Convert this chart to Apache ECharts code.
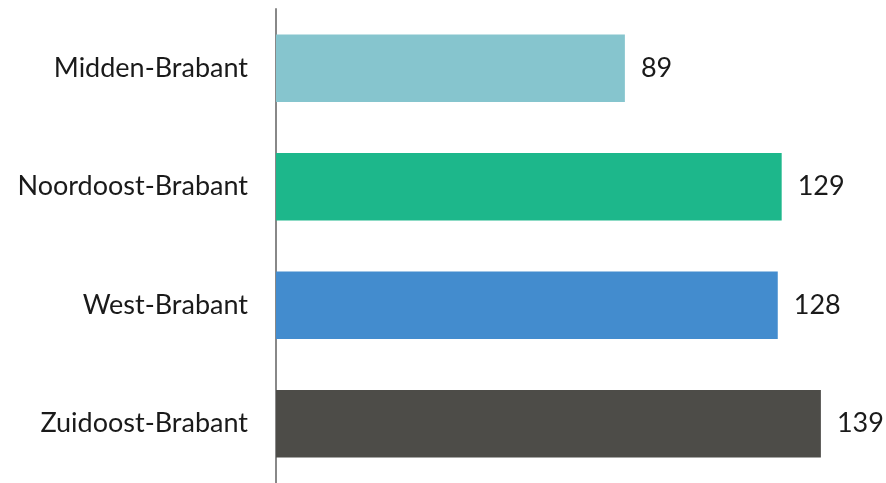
<!DOCTYPE html>
<html>
<head>
<meta charset="utf-8">
<script src="https://cdn.jsdelivr.net/npm/echarts@6/dist/echarts.min.js"></script>
<style>
  html, body { margin: 0; padding: 0; background: #fff; }
  #chart { width: 886px; height: 483px; }
</style>
</head>
<body>
<div id="chart"></div>
<script>
var regios = ['Midden-Brabant', 'Noordoost-Brabant', 'West-Brabant', 'Zuidoost-Brabant'];
var waarden = [89, 129, 128, 139];
var kleuren = ['#86C5CE', '#1DB78B', '#438CCE', '#4D4C48'];

var myChart = echarts.init(document.getElementById('chart'));
var option = {
    animation: false,
    grid: {
      left: 276,
      right: 22,
      top: 9,
      bottom: -6
    },
    xAxis: {
      type: 'value',
      min: 0,
      max: 150,
      show: false
    },
    yAxis: {
      type: 'category',
      inverse: true,
      data: regios,
      axisLine: { show: true, lineStyle: { color: '#888888', width: 2 } },
      axisTick: { show: false },
      axisLabel: {
        margin: 28,
        fontFamily: 'Lato',
        fontSize: 27,
        color: '#1a1a1a'
      }
    },
    series: [
      {
        type: 'bar',
        barCategoryGap: '43%',
        data: waarden.map(function (v, i) {
          return { value: v, itemStyle: { color: kleuren[i] } };
        }),
        label: {
          show: true,
          position: 'right',
          distance: 16,
          fontFamily: 'Lato',
          fontSize: 27,
          color: '#1a1a1a'
        }
      }
    ]
  };
myChart.setOption(option);
</script>
</body>
</html>
